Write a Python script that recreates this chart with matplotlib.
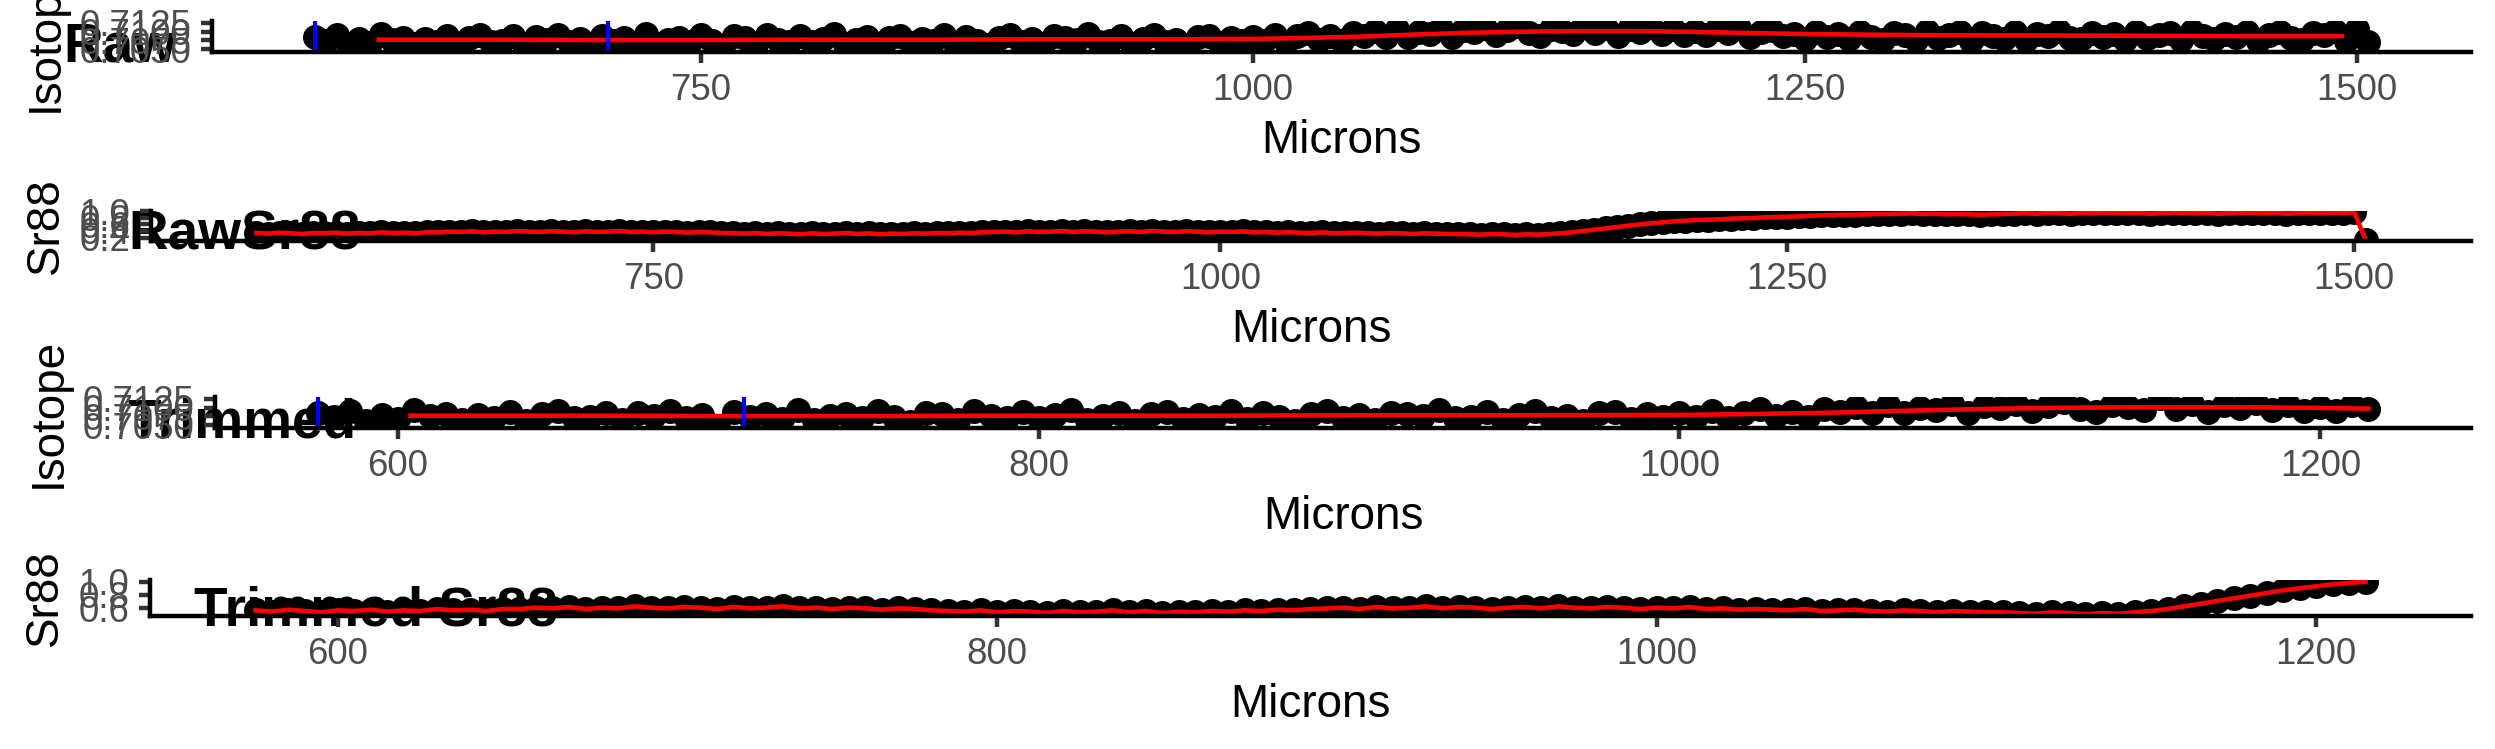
import numpy as np
import matplotlib
matplotlib.use("Agg")
import matplotlib.pyplot as plt
from matplotlib.ticker import FixedLocator, FormatStrFormatter

plt.rcParams['font.family'] = ['Liberation Sans', 'DejaVu Sans']

# ---- data ----
# laser scan positions, 5 micron step
microns = np.arange(575, 1506, 5)

iso_raw = [
    0.7085, 0.7072, 0.7089, 0.7063, 0.7080, 0.7068, 0.7092, 0.7075, 0.7083, 0.7066,
    0.7078, 0.7070, 0.7087, 0.7061, 0.7081, 0.7090, 0.7071, 0.7074, 0.7086, 0.7065,
    0.7084, 0.7076, 0.7091, 0.7069, 0.7079, 0.7046, 0.7088, 0.7073, 0.7082, 0.7067,
    0.7093, 0.7064, 0.7077, 0.7083, 0.7070, 0.7089, 0.7074, 0.7060, 0.7086, 0.7081,
    0.7066, 0.7090, 0.7075, 0.7069, 0.7087, 0.7071, 0.7080, 0.7092, 0.7065, 0.7076,
    0.7084, 0.7063, 0.7082, 0.7088, 0.7068, 0.7079, 0.7072, 0.7091, 0.7067, 0.7085,
    0.7074, 0.7061, 0.7083, 0.7089, 0.7070, 0.7078, 0.7064, 0.7086, 0.7081, 0.7075,
    0.7094, 0.7069, 0.7073, 0.7087, 0.7066, 0.7080, 0.7090, 0.7071, 0.7077, 0.7062,
    0.7084, 0.7088, 0.7068, 0.7082, 0.7074, 0.7085,
    0.7073, 0.7090, 0.7069, 0.7086, 0.7096, 0.7076, 0.7088, 0.7073, 0.7096, 0.7087,
    0.7102, 0.7085, 0.7108, 0.7084, 0.7100, 0.7092, 0.7109, 0.7085, 0.7104, 0.7100,
    0.7110, 0.7090, 0.7104, 0.7115, 0.7095, 0.7088, 0.7108, 0.7102, 0.7092, 0.7126,
    0.7097, 0.7111, 0.7087, 0.7106, 0.7099, 0.7114, 0.7093, 0.7107, 0.7089, 0.7103,
    0.7090, 0.7107, 0.7095, 0.7110, 0.7084, 0.7099, 0.7105, 0.7086, 0.7094, 0.7078,
    0.7099, 0.7085,
    0.7093, 0.7079, 0.7100, 0.7084, 0.7075, 0.7096, 0.7089, 0.7077, 0.7102, 0.7082,
    0.7091, 0.7098, 0.7074, 0.7095, 0.7086, 0.7080, 0.7099, 0.7076, 0.7094, 0.7088,
    0.7101, 0.7083, 0.7078, 0.7097, 0.7085, 0.7092, 0.7075, 0.7100, 0.7081, 0.7090,
    0.7096, 0.7077, 0.7102, 0.7087, 0.7079, 0.7094, 0.7084, 0.7099, 0.7074, 0.7091,
    0.7098, 0.7082, 0.7076, 0.7095, 0.7089, 0.7103, 0.7072, 0.7108, 0.7070,
]

sr88_raw = [
    0.34, 0.32, 0.35, 0.33, 0.31, 0.34, 0.33, 0.35, 0.32, 0.34, 0.33, 0.36, 0.34, 0.35, 0.33, 0.36,
    0.36, 0.38, 0.37, 0.39, 0.36, 0.38, 0.37, 0.40, 0.38, 0.37, 0.39, 0.38, 0.36, 0.39, 0.37, 0.38,
    0.40, 0.37, 0.38, 0.36, 0.38, 0.37, 0.35, 0.37, 0.36, 0.34,
    0.33, 0.32, 0.34, 0.31, 0.33, 0.32, 0.30, 0.33, 0.31, 0.32, 0.34, 0.31, 0.33, 0.30, 0.32, 0.31,
    0.33, 0.32, 0.34, 0.33, 0.35, 0.34,
    0.36, 0.37, 0.38, 0.36, 0.39, 0.37, 0.38, 0.40, 0.37, 0.39, 0.38, 0.36, 0.38, 0.39, 0.37, 0.40,
    0.38, 0.37, 0.39, 0.38, 0.36, 0.38, 0.37, 0.39, 0.36, 0.37, 0.35, 0.36,
    0.35, 0.34, 0.36, 0.33, 0.34, 0.35, 0.33, 0.32, 0.34, 0.33, 0.31, 0.33, 0.32, 0.31,
    0.31, 0.30, 0.29, 0.31, 0.30, 0.28, 0.30, 0.29, 0.31,
    0.33, 0.36, 0.40, 0.44, 0.48, 0.52, 0.56, 0.60, 0.63, 0.66, 0.69, 0.71, 0.73, 0.74,
    0.75, 0.77, 0.78, 0.79, 0.81, 0.82, 0.83, 0.84, 0.86, 0.87, 0.88, 0.89, 0.89, 0.90, 0.91, 0.91,
    0.92, 0.93, 0.91, 0.92, 0.90, 0.91, 0.90, 0.89, 0.90, 0.91, 0.92, 0.93, 0.92, 0.94, 0.93, 0.92,
    0.94, 0.93, 0.95, 0.94, 0.93, 0.94, 0.92, 0.93, 0.95, 0.94, 0.93, 0.94, 0.92, 0.93, 0.94, 0.95,
    0.93, 0.94, 0.92, 0.93, 0.94, 0.93, 0.95, 0.94, 0.96,
    0.14,
]

# trimmed run ends at 1215 microns
trim_end = 1215
sr88_trim = [
    0.57, 0.55, 0.58, 0.56, 0.54, 0.57, 0.56, 0.58, 0.55, 0.57, 0.56, 0.59, 0.57, 0.58, 0.56, 0.59,
    0.59, 0.61, 0.60, 0.62, 0.59, 0.61, 0.60, 0.63, 0.61, 0.60, 0.62, 0.61, 0.59, 0.62, 0.60, 0.61,
    0.63, 0.60, 0.61, 0.59, 0.61, 0.60, 0.58, 0.60, 0.59, 0.57,
    0.56, 0.55, 0.57, 0.54, 0.56, 0.55, 0.53, 0.56, 0.54, 0.55, 0.57, 0.54, 0.56, 0.53, 0.55, 0.54,
    0.56, 0.55, 0.57, 0.56, 0.58, 0.57,
    0.59, 0.60, 0.61, 0.59, 0.62, 0.60, 0.61, 0.63, 0.60, 0.62, 0.61, 0.59, 0.61, 0.62, 0.60, 0.63,
    0.61, 0.60, 0.62, 0.61, 0.59, 0.61, 0.60, 0.62, 0.59, 0.60, 0.58, 0.59,
    0.58, 0.57, 0.59, 0.56, 0.57, 0.58, 0.56, 0.55, 0.57, 0.56, 0.54, 0.56, 0.55, 0.54,
    0.54, 0.53, 0.52, 0.54, 0.53, 0.51, 0.53, 0.52, 0.54,
    0.56, 0.59, 0.63, 0.67, 0.71, 0.75, 0.79, 0.83, 0.87, 0.90, 0.93, 0.96, 0.98, 1.00,
]

# smoothed isotope (red line)
iso_smooth_um = [604, 650, 700, 750, 800, 850, 900, 950, 1000, 1025, 1050, 1075, 1100,
                 1125, 1150, 1175, 1200, 1215, 1250, 1300, 1350, 1400, 1450, 1493]
iso_smooth = [0.7077, 0.7077, 0.7076, 0.7076, 0.7077, 0.7077, 0.7078, 0.7078, 0.7079,
              0.7082, 0.7086, 0.7092, 0.7097, 0.7100, 0.7101, 0.7101, 0.7099, 0.7097,
              0.7093, 0.7090, 0.7089, 0.7088, 0.7087, 0.7087]

# selected window (blue lines)
window_um = [575, 708]

iso_ticks = [0.7050, 0.7075, 0.7100, 0.7125]
sr_raw_ticks = [0.2, 0.4, 0.6, 0.8, 1.0]
sr_trim_ticks = [0.6, 0.8, 1.0]
x_raw_ticks = [750, 1000, 1250, 1500]
x_trim_ticks = [600, 800, 1000, 1200]

iso_raw = np.array(iso_raw)
sr88_raw = np.array(sr88_raw)
sr88_trim = np.array(sr88_trim)
iso_smooth_um = np.array(iso_smooth_um)
iso_smooth = np.array(iso_smooth)
keep = microns <= trim_end
keep_s = iso_smooth_um <= trim_end

# ---- figure ----
W, H = 2495, 749
fig = plt.figure(figsize=(W / 300, H / 300), dpi=300)


def panel(left, top, bottom, right=2471):
    return fig.add_axes([left / W, 1 - bottom / H, (right - left) / W, (bottom - top) / H])


def style(ax, ylab, xt, yt, yfmt):
    ax.set_facecolor('none')
    for s in ['top', 'right']:
        ax.spines[s].set_visible(False)
    for s in ['left', 'bottom']:
        ax.spines[s].set_linewidth(1.07)
        ax.spines[s].set_color('black')
    ax.tick_params(length=2.75, width=1.07, color='#333333', labelcolor='#4D4D4D',
                   labelsize=8.8, pad=2.2)
    ax.xaxis.set_major_locator(FixedLocator(xt))
    ax.yaxis.set_major_locator(FixedLocator(yt))
    ax.yaxis.set_major_formatter(FormatStrFormatter(yfmt))
    ax.set_xlabel('Microns', fontsize=11, labelpad=2.75)
    ax.set_ylabel(ylab, fontsize=11, labelpad=2.75)


pt = dict(ls='none', marker='o', ms=6.0, mew=0, color='black')
red = dict(color='#FF0000', lw=1.1)
blue = dict(color='#0000FF', lw=1.0)

# Raw isotope
ax1 = panel(212, 21, 52)
ax1.plot(microns, iso_raw, **pt)
ax1.plot(iso_smooth_um, iso_smooth, **red)
for v in window_um:
    ax1.axvline(v, **blue)
style(ax1, 'Isotope', x_raw_ticks, iso_ticks, '%.4f')

# Raw Sr88
ax2 = panel(151, 211, 241)
ax2.plot(microns, sr88_raw, **pt)
ax2.plot(microns, sr88_raw, **red)
style(ax2, 'Sr88', x_raw_ticks, sr_raw_ticks, '%.1f')

# Trimmed isotope
ax3 = panel(215, 397, 428)
ax3.plot(microns[keep], iso_raw[keep], **pt)
ax3.plot(iso_smooth_um[keep_s], iso_smooth[keep_s], **red)
for v in window_um:
    ax3.axvline(v, **blue)
style(ax3, 'Isotope', x_trim_ticks, iso_ticks, '%.4f')

# Trimmed Sr88
ax4 = panel(150, 580, 616)
ax4.plot(microns[keep], sr88_trim, **pt)
ax4.plot(microns[keep], sr88_trim, **red)
style(ax4, 'Sr88', x_trim_ticks, sr_trim_ticks, '%.1f')

titles = [('Raw', 63, 62), ('RawSr88', 128, 249), ('Trimmed', 127, 438), ('Trimmed Sr88', 194, 625)]
for txt, x, y in titles:
    fig.text(x / W, 1 - y / H, txt, fontsize=13.2, fontweight='bold', ha='left',
             va='baseline', zorder=-1)

fig.savefig('out.png', dpi=300, facecolor='white')
